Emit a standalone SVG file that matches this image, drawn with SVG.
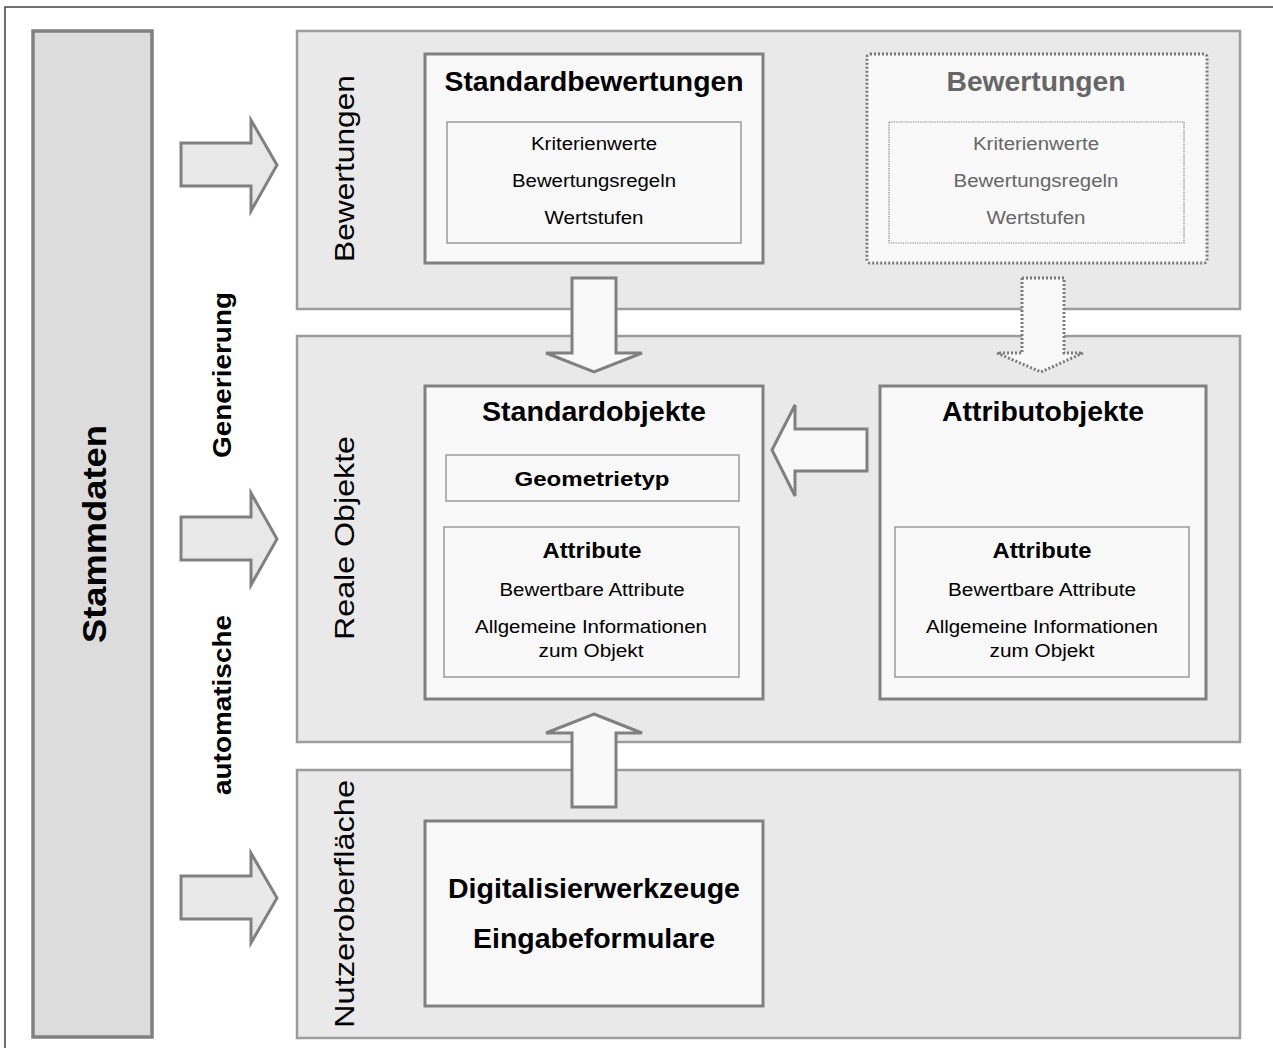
<svg xmlns="http://www.w3.org/2000/svg" width="1273" height="1048" viewBox="0 0 1273 1048">
  <style>
    text { font-family: "Liberation Sans", Arial, sans-serif; fill: #000; }
    .frame { fill: none; stroke: #404040; stroke-width: 1.5; }
    .panel { fill: #e9e9e9; stroke: #9c9c9c; stroke-width: 2.5; }
    .bar { fill: #dcdcdc; stroke: #808080; stroke-width: 3.5; }
    .box { fill: #f8f8f8; stroke: #808080; stroke-width: 3; }
    .inner { fill: #f8f8f8; stroke: #9a9a9a; stroke-width: 1.5; }
    .dotbox { fill: #f8f8f8; stroke: #7a7a7a; stroke-width: 3; stroke-dasharray: 2 2; }
    .dotinner { fill: #f8f8f8; stroke: #7a7a7a; stroke-width: 1.2; stroke-dasharray: 1.2 1.2; }
    .arrow-l { fill: #e8e8e8; stroke: #808080; stroke-width: 3; stroke-linejoin: miter; }
    .arrow { fill: #f8f8f8; stroke: #808080; stroke-width: 3; stroke-linejoin: miter; }
    .arrow-dot { fill: #f8f8f8; stroke: #7a7a7a; stroke-width: 3; stroke-dasharray: 2 2; }
    .title { font-size: 28px; font-weight: bold; text-anchor: middle; }
    .sub { font-size: 22px; font-weight: bold; text-anchor: middle; }
    .sub2 { font-size: 20px; font-weight: bold; text-anchor: middle; }
    .item { font-size: 18px; text-anchor: middle; }
    .faded { fill: #666; }
    .side { font-size: 28px; text-anchor: middle; }
    .sideb { font-size: 26px; font-weight: bold; text-anchor: middle; }
    .big { font-size: 34px; font-weight: bold; text-anchor: middle; }
  </style>

  <!-- outer frame -->
  <path class="frame" d="M5,1048 V7 H1273"/>

  <!-- master data column -->
  <g id="stammdaten">
    <rect class="bar" x="33" y="31" width="119" height="1006"/>
    <text class="big" transform="translate(106,534) rotate(-90)" textLength="218" lengthAdjust="spacingAndGlyphs">Stammdaten</text>
  </g>

  <!-- label of the generation step -->
  <g id="generierung-label">
    <text class="sideb" transform="translate(231,375) rotate(-90)" textLength="166" lengthAdjust="spacingAndGlyphs">Generierung</text>
    <text class="sideb" transform="translate(231,705) rotate(-90)" textLength="180" lengthAdjust="spacingAndGlyphs">automatische</text>
  </g>

  <!-- layer panels -->
  <g id="panel-bewertungen">
    <rect class="panel" x="297" y="31" width="943" height="278"/>
    <text class="side" transform="translate(354,168.5) rotate(-90)" textLength="187" lengthAdjust="spacingAndGlyphs">Bewertungen</text>
  </g>
  <g id="panel-reale-objekte">
    <rect class="panel" x="297" y="336" width="943" height="406"/>
    <text class="side" transform="translate(354,538) rotate(-90)" textLength="204" lengthAdjust="spacingAndGlyphs">Reale Objekte</text>
  </g>
  <g id="panel-nutzeroberflaeche">
    <rect class="panel" x="297" y="770" width="943" height="268"/>
    <text class="side" transform="translate(354,904) rotate(-90)" textLength="248" lengthAdjust="spacingAndGlyphs">Nutzeroberfläche</text>
  </g>

  <!-- nodes -->
  <g id="standardbewertungen">
    <rect class="box" x="425" y="54" width="338" height="209"/>
    <text class="title" x="594" y="91" textLength="299" lengthAdjust="spacingAndGlyphs">Standardbewertungen</text>
    <rect class="inner" x="447" y="122" width="294" height="121"/>
    <text class="item" x="594" y="150" textLength="126" lengthAdjust="spacingAndGlyphs">Kriterienwerte</text>
    <text class="item" x="594" y="187" textLength="164" lengthAdjust="spacingAndGlyphs">Bewertungsregeln</text>
    <text class="item" x="594" y="224" textLength="99" lengthAdjust="spacingAndGlyphs">Wertstufen</text>
  </g>

  <g id="bewertungen">
    <rect class="dotbox" x="867" y="54" width="340" height="209" rx="3"/>
    <text class="title faded" x="1036" y="91" textLength="179" lengthAdjust="spacingAndGlyphs">Bewertungen</text>
    <rect class="dotinner" x="889" y="122" width="295" height="121"/>
    <text class="item faded" x="1036" y="150" textLength="126" lengthAdjust="spacingAndGlyphs">Kriterienwerte</text>
    <text class="item faded" x="1036" y="187" textLength="165" lengthAdjust="spacingAndGlyphs">Bewertungsregeln</text>
    <text class="item faded" x="1036" y="224" textLength="99" lengthAdjust="spacingAndGlyphs">Wertstufen</text>
  </g>

  <g id="standardobjekte">
    <rect class="box" x="425" y="386" width="338" height="313"/>
    <text class="title" x="594" y="421" textLength="224" lengthAdjust="spacingAndGlyphs">Standardobjekte</text>
    <rect class="inner" x="446" y="455" width="293" height="46"/>
    <text class="sub2" x="592" y="486" textLength="155" lengthAdjust="spacingAndGlyphs">Geometrietyp</text>
    <rect class="inner" x="444" y="527" width="295" height="150"/>
    <text class="sub" x="592" y="558" textLength="99" lengthAdjust="spacingAndGlyphs">Attribute</text>
    <text class="item" x="592" y="596" textLength="185" lengthAdjust="spacingAndGlyphs">Bewertbare Attribute</text>
    <text class="item" x="591" y="633" textLength="232" lengthAdjust="spacingAndGlyphs">Allgemeine Informationen</text>
    <text class="item" x="591" y="657" textLength="105" lengthAdjust="spacingAndGlyphs">zum Objekt</text>
  </g>

  <g id="attributobjekte">
    <rect class="box" x="880" y="386" width="326" height="313"/>
    <text class="title" x="1043" y="421" textLength="202" lengthAdjust="spacingAndGlyphs">Attributobjekte</text>
    <rect class="inner" x="895" y="527" width="294" height="150"/>
    <text class="sub" x="1042" y="558" textLength="99" lengthAdjust="spacingAndGlyphs">Attribute</text>
    <text class="item" x="1042" y="596" textLength="188" lengthAdjust="spacingAndGlyphs">Bewertbare Attribute</text>
    <text class="item" x="1042" y="633" textLength="232" lengthAdjust="spacingAndGlyphs">Allgemeine Informationen</text>
    <text class="item" x="1042" y="657" textLength="105" lengthAdjust="spacingAndGlyphs">zum Objekt</text>
  </g>

  <g id="eingabewerkzeuge">
    <rect class="box" x="425" y="821" width="338" height="185"/>
    <text class="title" x="594" y="898" textLength="292" lengthAdjust="spacingAndGlyphs">Digitalisierwerkzeuge</text>
    <text class="title" x="594" y="948" textLength="242" lengthAdjust="spacingAndGlyphs">Eingabeformulare</text>
  </g>

  <!-- connectors: block arrows -->
  <g id="connectors">
    <path class="arrow-l" d="M181,143 H251 V120 L277,165 L251,211 V186 H181 Z"/>
    <path class="arrow-l" d="M181,517 H251 V493 L277,539 L251,585 V560 H181 Z"/>
    <path class="arrow-l" d="M181,876 H251 V853 L277,898 L251,943 V919 H181 Z"/>
    <path class="arrow" d="M572,278 H616 V353 H642 L594,372 L546,353 H572 Z"/>
    <path class="arrow-dot" d="M1022,278 H1064 V353 H1083 L1041,372 L997,353 H1022 Z"/>
    <path class="arrow" d="M772,450 L795,405 V429 H867 V471 H795 V496 Z"/>
    <path class="arrow" d="M594,714 L642,733 H616 V807 H572 V733 H546 Z"/>
  </g>
</svg>
